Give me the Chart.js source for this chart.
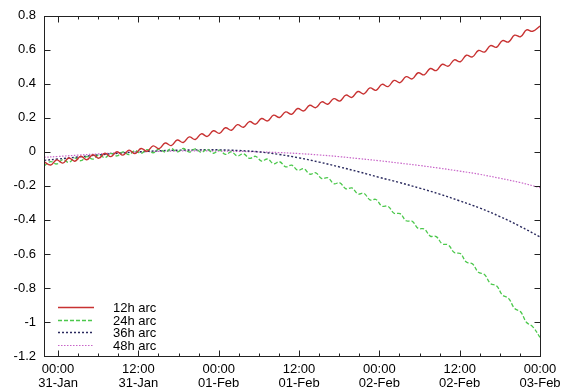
<!DOCTYPE html>
<html>
<head>
<meta charset="utf-8">
<script src="https://cdn.jsdelivr.net/npm/chart.js@4.4.0/dist/chart.umd.min.js"></script>
<style>
  html, body { margin: 0; padding: 0; background: #fff; }
</style>
</head>
<body>
<canvas id="chart" width="570" height="391"></canvas>
<script>
const seriesNames = ['12h arc', '24h arc', '36h arc', '48h arc'];

// hours since 31-Jan 00:00
const hoursFine = [
  -2.1, -1.1, -0.2, 0.7, 1.6, 2.5, 3.4, 4.3, 5.2, 6.1,
  7.0, 7.9, 8.8, 9.7, 10.6, 11.5, 12.4, 13.3, 14.2, 15.1,
  16.0, 16.9, 17.8, 18.7, 19.6, 20.5, 21.4, 22.3, 23.2, 24.1,
  25.0, 25.9, 26.8, 27.7, 28.6, 29.5, 30.4, 31.3, 32.2, 33.1,
  34.0, 34.9, 35.8, 36.7, 37.6, 38.5, 39.4, 40.3, 41.2, 42.1,
  43.0, 43.9, 44.8, 45.7, 46.6, 47.5, 48.4, 49.3, 50.2, 51.1,
  52.0, 52.9, 53.8, 54.7, 55.6, 56.5, 57.4, 58.3, 59.2, 60.1,
  61.0, 61.9, 62.8, 63.7, 64.6, 65.5, 66.4, 67.3, 68.2, 69.1,
  70.0, 70.9, 72.0
];
const arc12 = [
  -0.058, -0.077, -0.047, -0.066, -0.036, -0.055, -0.026, -0.046, -0.017, -0.037,
  -0.008, -0.028, 0.001, -0.019, 0.010, -0.010, 0.020, 0.004, 0.035, 0.019,
  0.052, 0.037, 0.070, 0.055, 0.088, 0.073, 0.106, 0.091, 0.124, 0.109,
  0.142, 0.127, 0.160, 0.145, 0.178, 0.163, 0.196, 0.182, 0.216, 0.202,
  0.235, 0.221, 0.255, 0.241, 0.274, 0.260, 0.294, 0.280, 0.313, 0.299,
  0.334, 0.320, 0.355, 0.341, 0.376, 0.362, 0.397, 0.384, 0.420, 0.407,
  0.442, 0.429, 0.465, 0.453, 0.490, 0.478, 0.515, 0.504, 0.541, 0.530,
  0.568, 0.558, 0.596, 0.587, 0.625, 0.615, 0.654, 0.646, 0.686, 0.677,
  0.717, 0.709, 0.740
];
const arc24 = [
  -0.082, -0.057, -0.071, -0.046, -0.062, -0.037, -0.052, -0.028, -0.043, -0.018,
  -0.034, -0.009, -0.024, 0.000, -0.016, 0.008, -0.009, 0.013, -0.005, 0.017,
  -0.002, 0.019, 0.000, 0.020, -0.001, 0.018, -0.003, 0.015, -0.008, 0.010,
  -0.015, 0.000, -0.024, -0.011, -0.038, -0.026, -0.054, -0.042, -0.070, -0.058,
  -0.088, -0.078, -0.108, -0.099, -0.131, -0.123, -0.157, -0.152, -0.187, -0.182,
  -0.217, -0.212, -0.247, -0.244, -0.282, -0.280, -0.319, -0.320, -0.361, -0.363,
  -0.405, -0.408, -0.450, -0.453, -0.495, -0.498, -0.541, -0.547, -0.592, -0.598,
  -0.648, -0.658, -0.708, -0.721, -0.774, -0.787, -0.842, -0.861, -0.920, -0.940,
  -1.003, -1.027, -1.090
];

const hoursCoarse = [-2.1, 0, 3, 6, 9, 12, 15, 18, 21, 24, 27, 30, 33, 36, 39, 42, 45, 48, 51, 54, 57, 60, 63, 66, 69, 72];
const arc36 = [-0.05, -0.042, -0.03, -0.018, -0.008, 0.0, 0.006, 0.01, 0.012, 0.012, 0.008, 0.0, -0.015,
  -0.035, -0.06, -0.088, -0.118, -0.15, -0.18, -0.213, -0.248, -0.288, -0.33, -0.38, -0.437, -0.50];
const arc48 = [-0.032, -0.027, -0.019, -0.012, -0.005, 0.0, 0.003, 0.005, 0.006, 0.005, 0.003, 0.0, -0.004,
  -0.01, -0.018, -0.028, -0.04, -0.052, -0.066, -0.08, -0.096, -0.113, -0.132, -0.155, -0.18, -0.21];

const xTicks = [0, 12, 24, 36, 48, 60, 72];
const xTickLabels = [
  ['00:00', '31-Jan'], ['12:00', '31-Jan'], ['00:00', '01-Feb'], ['12:00', '01-Feb'],
  ['00:00', '02-Feb'], ['12:00', '02-Feb'], ['00:00', '03-Feb']
];
const xMinorTicks = [3, 6, 9, 15, 18, 21, 27, 30, 33, 39, 42, 45, 51, 54, 57, 63, 66, 69];
const yTicks = [0.8, 0.6, 0.4, 0.2, 0, -0.2, -0.4, -0.6, -0.8, -1, -1.2];
const yTickLabels = ['0.8', '0.6', '0.4', '0.2', '0', '-0.2', '-0.4', '-0.6', '-0.8', '-1', '-1.2'];

const FONT = { family: "'Liberation Sans', Arial, sans-serif", size: 13 };
const toPoints = (xs, ys) => xs.map((x, i) => ({ x, y: ys[i] }));

// gnuplot-like frame: border, inward ticks on all sides, key inside bottom-left
const frame = {
  id: 'frame',
  afterDraw(chart) {
    const { ctx, chartArea: a, scales: { x, y } } = chart;
    const L = Math.round(a.left) + 0.5, R = Math.round(a.right) + 0.5;
    const T = Math.round(a.top) + 0.5, B = Math.round(a.bottom) + 0.5;
    ctx.save();
    ctx.strokeStyle = '#222';
    ctx.lineWidth = 1;
    ctx.beginPath();
    const xt = (v, len) => {
      const px = Math.round(x.getPixelForValue(v)) + 0.5;
      ctx.moveTo(px, B); ctx.lineTo(px, B - len);
      ctx.moveTo(px, T); ctx.lineTo(px, T + len);
    };
    xTicks.forEach(v => xt(v, 6));
    xMinorTicks.forEach(v => xt(v, 3));
    yTicks.forEach(v => {
      const py = Math.round(y.getPixelForValue(v)) + 0.5;
      ctx.moveTo(L, py); ctx.lineTo(L + 6, py);
      ctx.moveTo(R, py); ctx.lineTo(R - 6, py);
    });
    ctx.stroke();
    ctx.strokeRect(L, T, R - L, B - T);

    ctx.font = `${FONT.size}px ${FONT.family}`;
    ctx.textBaseline = 'middle';
    ctx.textAlign = 'left';
    chart.data.datasets.forEach((ds, i) => {
      const ry = Math.round(a.bottom - 49 + i * 12.7) + 0.5;
      ctx.strokeStyle = ds.borderColor;
      ctx.lineWidth = ds.borderWidth;
      ctx.setLineDash(ds.borderDash || []);
      ctx.beginPath();
      ctx.moveTo(a.left + 14, ry);
      ctx.lineTo(a.left + 50, ry);
      ctx.stroke();
      ctx.setLineDash([]);
      ctx.fillStyle = '#000';
      ctx.fillText(ds.label, a.left + 69, ry + 0.5);
    });
    ctx.restore();
  }
};

new Chart(document.getElementById('chart'), {
  type: 'line',
  data: {
    datasets: [
      { label: seriesNames[0], data: toPoints(hoursFine, arc12), borderColor: '#c83232', borderWidth: 1.4, tension: 0.4 },
      { label: seriesNames[1], data: toPoints(hoursFine, arc24), borderColor: '#4cc84c', borderWidth: 1.3, borderDash: [4, 2], tension: 0.4 },
      { label: seriesNames[2], data: toPoints(hoursCoarse, arc36), borderColor: '#2a2a5e', borderWidth: 1.4, borderDash: [2, 2], tension: 0.4 },
      { label: seriesNames[3], data: toPoints(hoursCoarse, arc48), borderColor: '#c864c8', borderWidth: 1.2, borderDash: [1.5, 1.5], tension: 0.4 },
    ],
  },
  options: {
    responsive: false,
    animation: false,
    devicePixelRatio: 1,
    elements: { point: { radius: 0 } },
    layout: { padding: { left: 0, right: 30, top: 11, bottom: 0 } },
    plugins: { legend: { display: false }, tooltip: { enabled: false } },
    scales: {
      x: {
        type: 'linear', min: -2.1, max: 72,
        grid: { display: false, drawTicks: false }, border: { display: false },
        afterBuildTicks: s => { s.ticks = xTicks.map(v => ({ value: v })); },
        afterFit: s => { s.height = 35; },
        ticks: {
          callback: (v, i) => xTickLabels[i],
          maxRotation: 0, autoSkip: false, padding: 6, color: '#000',
          font: { ...FONT, lineHeight: 1.1 },
        },
      },
      y: {
        type: 'linear', min: -1.2, max: 0.8,
        grid: { display: false, drawTicks: false }, border: { display: false },
        afterBuildTicks: s => { s.ticks = yTicks.map(v => ({ value: v })); },
        afterFit: s => { s.width = 44; },
        ticks: { callback: (v, i) => yTickLabels[i], autoSkip: false, padding: 8, color: '#000', font: FONT },
      },
    },
  },
  plugins: [frame],
});
</script>
</body>
</html>
